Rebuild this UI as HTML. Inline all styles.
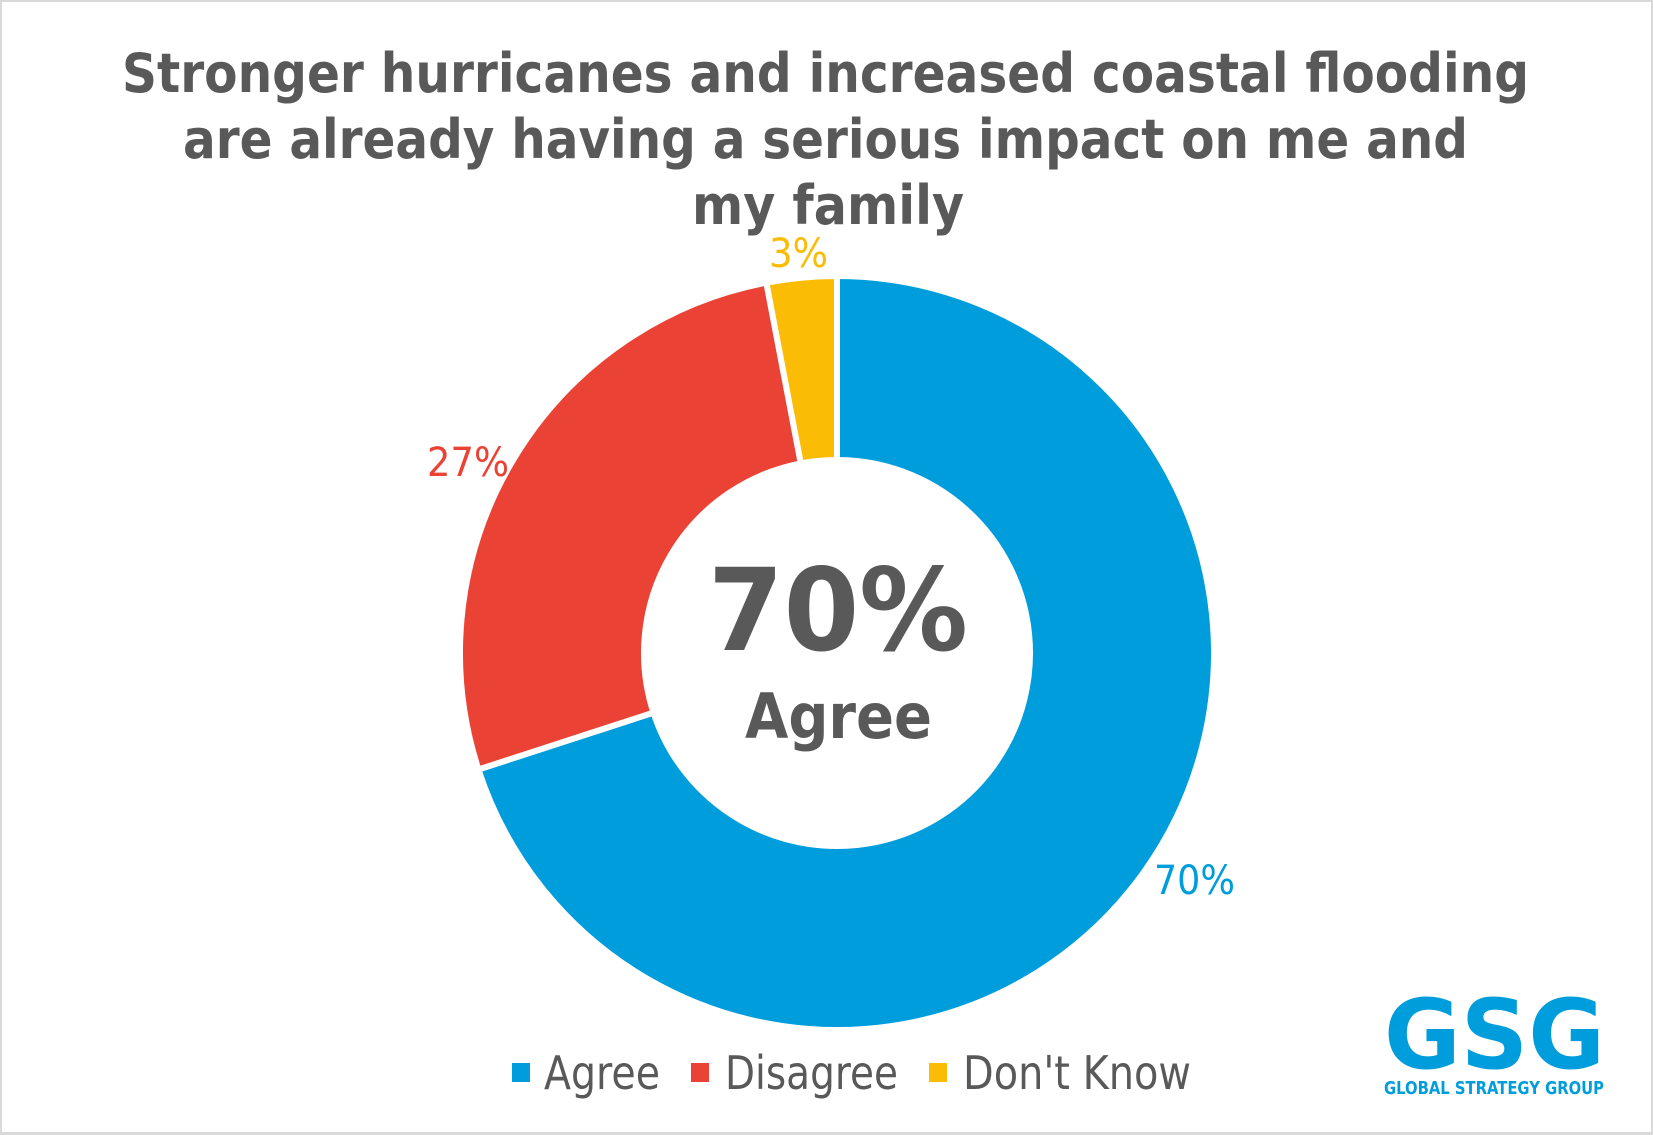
<!DOCTYPE html>
<html><head><meta charset="utf-8"><style>
html,body{margin:0;padding:0;background:#fff}
svg{display:block}
</style></head><body>
<svg width="1653" height="1135" viewBox="0 0 1653 1135" xmlns="http://www.w3.org/2000/svg">
<rect x="0.5" y="0.5" width="1652" height="1133" fill="#fff" stroke="#d9d9d9" stroke-width="3"/>
<g font-family="'DejaVu Sans','Liberation Sans',sans-serif" font-weight="bold" fill="#595959" font-size="54" text-anchor="start">
<text x="122" y="92" textLength="1407" lengthAdjust="spacingAndGlyphs">Stronger hurricanes and increased coastal flooding</text>
<text x="183" y="158" textLength="1285" lengthAdjust="spacingAndGlyphs">are already having a serious impact on me and</text>
<text x="692" y="224" textLength="272" lengthAdjust="spacingAndGlyphs">my family</text>
</g>
<g stroke="#fff" stroke-width="6" stroke-linejoin="miter">
<path id="agree" fill="#009ddc"/>
<path id="dis" fill="#ea4335"/>
<path id="dk" fill="#fbbc05"/>
</g>
<script>
(function(){
var cx=837,cy=653,R=377,r=193;
function pt(rad,deg){var a=(deg-90)*Math.PI/180;return [cx+rad*Math.cos(a),cy+rad*Math.sin(a)];}
function arc(a0,a1){var l=(a1-a0)>180?1:0;var p0=pt(R,a0),p1=pt(R,a1),q1=pt(r,a1),q0=pt(r,a0);
return "M"+p0+" A"+R+","+R+" 0 "+l+" 1 "+p1+" L"+q1+" A"+r+","+r+" 0 "+l+" 0 "+q0+" Z";}
document.getElementById('agree').setAttribute('d',arc(0,252));
document.getElementById('dis').setAttribute('d',arc(252,349.2));
document.getElementById('dk').setAttribute('d',arc(349.2,360));
})();
</script>
<g font-family="'DejaVu Sans','Liberation Sans',sans-serif" font-size="40">
<text x="769" y="267" fill="#fbbc05" textLength="59" lengthAdjust="spacingAndGlyphs">3%</text>
<text x="427" y="476" fill="#ea4335" textLength="82" lengthAdjust="spacingAndGlyphs">27%</text>
<text x="1154" y="894" fill="#009ddc" textLength="81" lengthAdjust="spacingAndGlyphs">70%</text>
</g>
<g font-family="'DejaVu Sans','Liberation Sans',sans-serif" font-weight="bold" fill="#595959">
<text x="708" y="650" font-size="114" textLength="260" lengthAdjust="spacingAndGlyphs">70%</text>
<text x="745" y="738" font-size="62" textLength="187" lengthAdjust="spacingAndGlyphs">Agree</text>
</g>
<g font-family="'DejaVu Sans','Liberation Sans',sans-serif" font-size="46" fill="#595959">
<rect x="512" y="1063" width="18" height="19" fill="#009ddc"/>
<text x="544" y="1089" textLength="116" lengthAdjust="spacingAndGlyphs">Agree</text>
<rect x="691" y="1063" width="18" height="19" fill="#ea4335"/>
<text x="725" y="1089" textLength="173" lengthAdjust="spacingAndGlyphs">Disagree</text>
<rect x="929" y="1063" width="18" height="19" fill="#fbbc05"/>
<text x="963" y="1089" textLength="228" lengthAdjust="spacingAndGlyphs">Don't Know</text>
</g>
<g font-family="'DejaVu Sans','Liberation Sans',sans-serif" font-weight="bold" fill="#009ddc">
<text x="1384" y="1068" font-size="96" textLength="221" lengthAdjust="spacingAndGlyphs">GSG</text>
<text x="1384" y="1094" font-size="18" font-weight="bold" textLength="220" lengthAdjust="spacingAndGlyphs">GLOBAL STRATEGY GROUP</text>
</g>
</svg>
</body></html>
